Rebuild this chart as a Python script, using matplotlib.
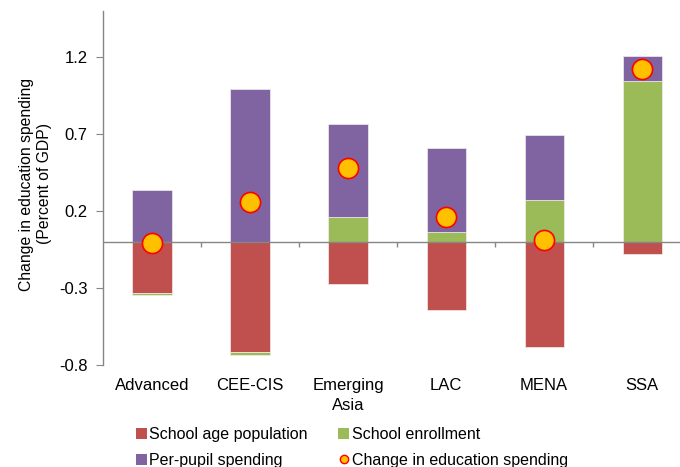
import numpy as np
import matplotlib
matplotlib.use("Agg")
import matplotlib.pyplot as plt
from matplotlib.lines import Line2D
from matplotlib.patches import Patch

plt.rcParams["font.family"] = ["Liberation Sans", "DejaVu Sans"]

regions = ["Advanced", "CEE-CIS", "Emerging\nAsia", "LAC", "MENA", "SSA"]
school_age_pop = [-0.335, -0.717, -0.274, -0.443, -0.681, -0.077]
school_enroll = [-0.011, -0.016, 0.161, 0.066, 0.269, 1.044]
per_pupil = [0.335, 0.992, 0.604, 0.543, 0.424, 0.162]
total_change = [-0.01, 0.256, 0.482, 0.160, 0.010, 1.122]

COLORS = {
    "School age population": "#C0504D",
    "School enrollment": "#9BBB59",
    "Per-pupil spending": "#8064A2",
}
AXIS_GREY = "#868686"

fig = plt.figure(figsize=(6.8, 4.67), dpi=100)
ax = fig.add_axes([0.1515, 0.2184, 0.865, 0.7585])

x = np.arange(len(regions))
pos_base = np.zeros(len(regions))
neg_base = np.zeros(len(regions))

# Excel-style stacking: positives pile up from zero, negatives pile down
for name, vals in [("School age population", school_age_pop),
                   ("School enrollment", school_enroll),
                   ("Per-pupil spending", per_pupil)]:
    vals = np.array(vals)
    base = np.where(vals >= 0, pos_base, neg_base)
    ax.bar(x, vals, width=0.4, bottom=base, color=COLORS[name],
           edgecolor="#F5EDED", linewidth=0.5, zorder=2)
    pos_base += np.where(vals >= 0, vals, 0)
    neg_base += np.where(vals < 0, vals, 0)

ax.plot(x, total_change, linestyle="none", marker="o", markersize=14.5,
        markerfacecolor="#FFC000", markeredgecolor="#FF0000",
        markeredgewidth=1.2, zorder=4)

# category axis sits on the zero line, with ticks between groups
ax.axhline(0, color=AXIS_GREY, linewidth=1.0, zorder=3)
ax.vlines(x + 0.5, -0.033, 0, color=AXIS_GREY, linewidth=1.0, zorder=3)

ax.set_xlim(-0.5, len(regions) - 0.5)
ax.set_ylim(-0.8, 1.5)
ax.set_yticks([-0.8, -0.3, 0.2, 0.7, 1.2])
ax.set_yticklabels(["-0.8", "-0.3", "0.2", "0.7", "1.2"])
ax.set_xticks(x)
ax.set_xticklabels(regions, linespacing=1.45)
ax.tick_params(axis="x", length=0, pad=9, labelsize=12)
ax.tick_params(axis="y", direction="out", length=5, color=AXIS_GREY,
               labelsize=12, pad=6)

for side in ["top", "right", "bottom"]:
    ax.spines[side].set_visible(False)
ax.spines["left"].set_color(AXIS_GREY)
ax.spines["left"].set_linewidth(1.0)

fig.text(0.052, 0.606, "Change in education spending\n(Percent of GDP)",
         rotation=90, ha="center", va="center", multialignment="center",
         fontsize=11.3, linespacing=1.2)

handles = [
    Patch(facecolor=COLORS["School age population"], label="School age population"),
    Patch(facecolor=COLORS["Per-pupil spending"], label="Per-pupil spending"),
    Patch(facecolor=COLORS["School enrollment"], label="School enrollment"),
    Line2D([], [], linestyle="none", marker="o", markersize=6,
           markerfacecolor="#FFC000", markeredgecolor="#FF0000",
           markeredgewidth=1.0, label="Change in education spending"),
]
fig.legend(handles=handles, ncol=2, loc="upper left",
           bbox_to_anchor=(0.19, 0.1), frameon=False, fontsize=11.5,
           handlelength=0.7, handleheight=0.7, handletextpad=0.15,
           columnspacing=1.9, labelspacing=0.7, borderaxespad=0)

fig.savefig("out.png", dpi=100)
